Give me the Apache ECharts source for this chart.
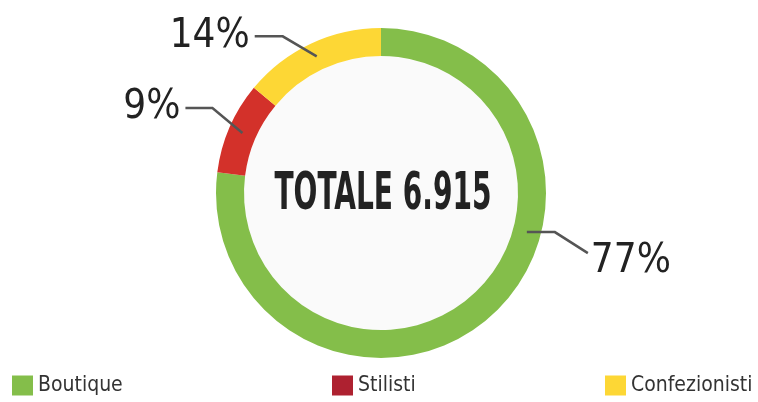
<!DOCTYPE html>
<html>
<head>
<meta charset="utf-8">
<script src="https://cdn.jsdelivr.net/npm/echarts@6/dist/echarts.min.js"></script>
<style>
  html, body { margin: 0; padding: 0; background: #fff; }
  #chart { width: 758px; height: 402px; }
</style>
</head>
<body>
<div id="chart"></div>
<script>
const categories = ['Boutique', 'Stilisti', 'Confezionisti']
const values = [5325, 622, 968]
const totalLabel = 'TOTALE 6.915'

const sliceColors = ['#84be4a', '#d3312a', '#fdd735']
const legendColors = ['#84be4a', '#ae2130', '#fdd735']
const narrow = "'Liberation Sans Narrow', 'DejaVu Sans Condensed', sans-serif"

const cx = 381
const cy = 193
const rIn = 137
const rOut = 165

const chart = echarts.init(document.getElementById('chart'))

const legendLeft = [7, 327, 600]

// mid-angle of each slice (degrees, counter-clockwise from 3 o'clock)
const total = values.reduce((s, v) => s + v, 0)
const midAngles = []
let acc = 0
values.forEach(v => {
  midAngles.push(90 - (acc + v / 2) / total * 360)
  acc += v
})

// label line bends: [dx to elbow, dy to elbow, horizontal run]
const bends = [null, [-30, -25, -27], [-34, -20, -28]]

function layoutLabel (params) {
  const i = params.dataIndex
  const rm = (rIn + rOut) / 2
  if (i === 0) {
    const a = -15 * Math.PI / 180
    const x0 = cx + rm * Math.cos(a)
    const y0 = cy - rm * Math.sin(a)
    return {
      x: x0 + 64,
      y: y0 + 30,
      align: 'left',
      verticalAlign: 'middle',
      labelLinePoints: [[x0, y0], [x0 + 28, y0], [x0 + 61, y0 + 21]]
    }
  }
  const a = midAngles[i] * Math.PI / 180
  const x0 = cx + rm * Math.cos(a)
  const y0 = cy - rm * Math.sin(a)
  const b = bends[i]
  const x1 = x0 + b[0]
  const y1 = y0 + b[1]
  const x2 = x1 + b[2]
  return {
    x: x2 - 5,
    y: y1,
    align: 'right',
    verticalAlign: 'middle',
    labelLinePoints: [[x0, y0], [x1, y1], [x2, y1]]
  }
}

const option = {
  animation: false,
  backgroundColor: '#fff',
  legend: categories.map((name, i) => ({
    data: [{ name: name, itemStyle: { color: legendColors[i] } }],
    left: legendLeft[i],
    top: 370,
    icon: 'rect',
    itemWidth: 21,
    itemHeight: 20,
    selectedMode: false,
    textStyle: { fontFamily: narrow, fontSize: 21, color: '#333' }
  })),
  graphic: [
    {
      type: 'circle',
      shape: { cx: cx, cy: cy, r: rIn },
      style: { fill: '#fafafa' },
      silent: true,
      z: 0
    },
    {
      type: 'text',
      x: cx + 2,
      y: cy + 2,
      scaleX: 0.6,
      style: {
        text: totalLabel,
        x: 0,
        y: 0,
        align: 'center',
        verticalAlign: 'middle',
        fontFamily: narrow,
        fontWeight: 'bold',
        fontSize: 52,
        fill: '#222'
      },
      z: 10
    }
  ],
  series: [
    {
      // the ring
      type: 'pie',
      z: 2,
      center: [cx, cy],
      radius: [rIn, rOut],
      startAngle: 90,
      clockwise: true,
      silent: true,
      label: { show: false },
      labelLine: { show: false },
      data: categories.map((name, i) => ({
        name: name,
        value: values[i],
        itemStyle: { color: sliceColors[i] }
      }))
    },
    {
      // same slices, transparent, drawn on top so the label lines cross the ring
      type: 'pie',
      z: 3,
      center: [cx, cy],
      radius: [rIn, rOut],
      startAngle: 90,
      clockwise: true,
      silent: true,
      avoidLabelOverlap: false,
      itemStyle: { color: 'rgba(0,0,0,0)' },
      label: {
        show: true,
        position: 'outside',
        formatter: p => Math.round(p.percent) + '%',
        fontFamily: narrow,
        fontSize: 40,
        color: '#222'
      },
      labelLine: {
        show: true,
        lineStyle: { color: '#555', width: 2.5 }
      },
      labelLayout: layoutLabel,
      data: categories.map((name, i) => ({ name: name, value: values[i] }))
    }
  ]
}

chart.setOption(option)
</script>
</body>
</html>
